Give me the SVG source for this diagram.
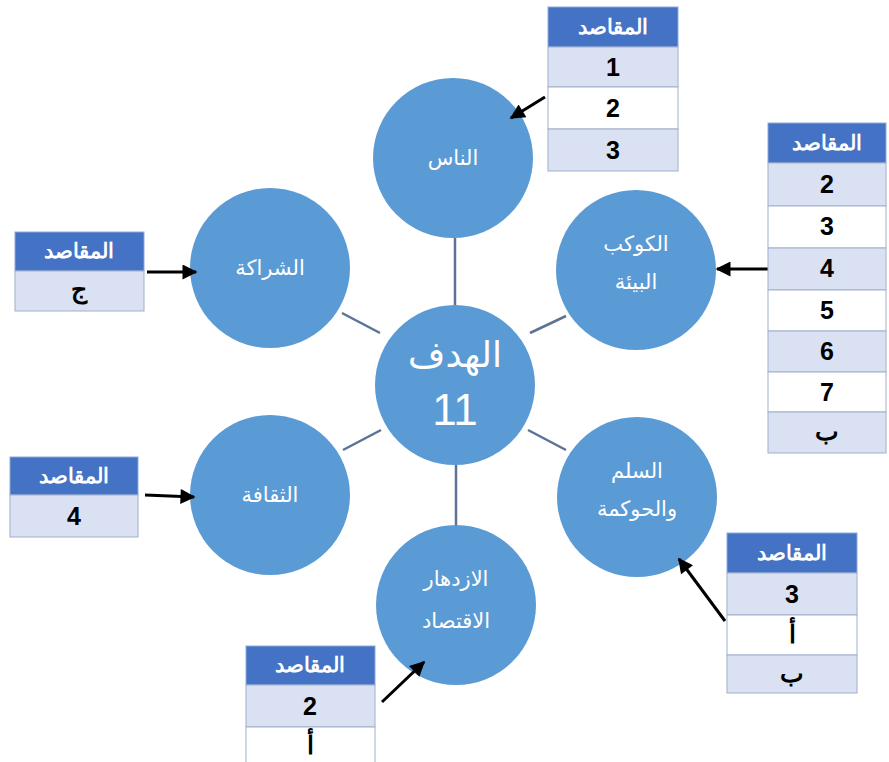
<svg xmlns="http://www.w3.org/2000/svg" width="889" height="762" viewBox="0 0 889 762">
  <defs>
    <marker id="head" viewBox="0 0 10 10" refX="9" refY="5" markerWidth="6" markerHeight="5" orient="auto" markerUnits="strokeWidth">
      <path d="M0,0 L10,5 L0,10 z" fill="#000"/>
    </marker>
    <style>
      .node { fill: #5b9bd5; }
      .ntext { fill: #ffffff; font-family: "Noto Sans", "DejaVu Sans", sans-serif; font-size: 21px; text-anchor: middle; }
      .big { font-size: 36px; }
      .num { font-family: "Liberation Sans", sans-serif; font-size: 44px; }
      .link { stroke: #5a7396; stroke-width: 2.5; fill: none; }
      .arrow { stroke: #000; stroke-width: 3; fill: none; marker-end: url(#head); }
      .hdr { fill: #4472c4; stroke: #8ea9db; stroke-width: 1; }
      .rowA { fill: #d9e1f2; stroke: #9fb0cc; stroke-width: 1; }
      .rowB { fill: #ffffff; stroke: #9fb0cc; stroke-width: 1; }
      .htext { fill: #ffffff; font-family: "Liberation Sans", "Noto Sans", sans-serif; font-weight: bold; font-size: 21px; text-anchor: middle; }
      .ctext { fill: #000000; font-family: "Liberation Sans", "Noto Sans", sans-serif; font-weight: bold; font-size: 25px; text-anchor: middle; }
    </style>
  </defs>
  <rect width="889" height="762" fill="#ffffff"/>

  <!-- spokes from the centre circle -->
  <g id="connectors">
    <line class="link" x1="455" y1="238" x2="455" y2="305"/>
    <line class="link" x1="342" y1="313" x2="380" y2="333"/>
    <line class="link" x1="530" y1="333" x2="566" y2="316"/>
    <line class="link" x1="343" y1="450" x2="381" y2="430"/>
    <line class="link" x1="528" y1="430" x2="566" y2="450"/>
    <line class="link" x1="456" y1="465" x2="456" y2="526"/>
  </g>

  <!-- circles -->
  <g id="center">
    <circle class="node" cx="455" cy="385" r="80"/>
    <text class="ntext big" x="455" y="367">الهدف</text>
    <text class="ntext num" x="455" y="425">11</text>
  </g>
  <g id="people">
    <circle class="node" cx="453" cy="158" r="80"/>
    <text class="ntext" x="453" y="165">الناس</text>
  </g>
  <g id="partnership">
    <circle class="node" cx="270" cy="268" r="80"/>
    <text class="ntext" x="270" y="275">الشراكة</text>
  </g>
  <g id="planet">
    <circle class="node" cx="636" cy="270" r="80"/>
    <text class="ntext" x="636" y="251">الكوكب</text>
    <text class="ntext" x="636" y="289">البيئة</text>
  </g>
  <g id="culture">
    <circle class="node" cx="270" cy="495" r="80"/>
    <text class="ntext" x="270" y="502">الثقافة</text>
  </g>
  <g id="peace">
    <circle class="node" cx="637" cy="497" r="80"/>
    <text class="ntext" x="637" y="478">السلم</text>
    <text class="ntext" x="637" y="516">والحوكمة</text>
  </g>
  <g id="prosperity">
    <circle class="node" cx="456" cy="605" r="80"/>
    <text class="ntext" x="456" y="586">الازدهار</text>
    <text class="ntext" x="456" y="628">الاقتصاد</text>
  </g>

  <!-- arrows from the tables to the circles -->
  <g id="arrows">
    <line class="arrow" x1="545" y1="97" x2="511" y2="118"/>
    <line class="arrow" x1="774" y1="269" x2="717" y2="269"/>
    <line class="arrow" x1="147" y1="272" x2="196" y2="272"/>
    <line class="arrow" x1="145" y1="495" x2="194" y2="497"/>
    <line class="arrow" x1="725" y1="621" x2="679" y2="559"/>
    <line class="arrow" x1="382" y1="702" x2="424" y2="662"/>
  </g>

  <!-- tables -->
  <g id="table-people">
    <rect class="hdr" x="548" y="7" width="130" height="40"/>
    <text class="htext" x="613" y="34">المقاصد</text>
    <rect class="rowA" x="548" y="47" width="130" height="40"/>
    <text class="ctext" x="613" y="76">1</text>
    <rect class="rowB" x="548" y="87" width="130" height="42"/>
    <text class="ctext" x="613" y="117">2</text>
    <rect class="rowA" x="548" y="129" width="130" height="42"/>
    <text class="ctext" x="613" y="159">3</text>
  </g>
  <g id="table-planet">
    <rect class="hdr" x="768" y="123" width="118" height="40"/>
    <text class="htext" x="827" y="150">المقاصد</text>
    <rect class="rowA" x="768" y="163" width="118" height="43"/>
    <text class="ctext" x="827" y="193">2</text>
    <rect class="rowB" x="768" y="206" width="118" height="42"/>
    <text class="ctext" x="827" y="235">3</text>
    <rect class="rowA" x="768" y="248" width="118" height="42"/>
    <text class="ctext" x="827" y="277">4</text>
    <rect class="rowB" x="768" y="290" width="118" height="41"/>
    <text class="ctext" x="827" y="319">5</text>
    <rect class="rowA" x="768" y="331" width="118" height="41"/>
    <text class="ctext" x="827" y="360">6</text>
    <rect class="rowB" x="768" y="372" width="118" height="40"/>
    <text class="ctext" x="827" y="401">7</text>
    <rect class="rowA" x="768" y="412" width="118" height="41"/>
    <text class="ctext" x="827" y="440">ب</text>
  </g>
  <g id="table-partnership">
    <rect class="hdr" x="15" y="232" width="129" height="39"/>
    <text class="htext" x="79" y="258">المقاصد</text>
    <rect class="rowA" x="15" y="271" width="129" height="40"/>
    <text class="ctext" x="79" y="298">ج</text>
  </g>
  <g id="table-culture">
    <rect class="hdr" x="10" y="457" width="128" height="38"/>
    <text class="htext" x="74" y="483">المقاصد</text>
    <rect class="rowA" x="10" y="495" width="128" height="42"/>
    <text class="ctext" x="74" y="525">4</text>
  </g>
  <g id="table-peace">
    <rect class="hdr" x="727" y="533" width="130" height="40"/>
    <text class="htext" x="792" y="560">المقاصد</text>
    <rect class="rowA" x="727" y="573" width="130" height="42"/>
    <text class="ctext" x="792" y="603">3</text>
    <rect class="rowB" x="727" y="615" width="130" height="40"/>
    <text class="ctext" x="792" y="643">أ</text>
    <rect class="rowA" x="727" y="655" width="130" height="38"/>
    <text class="ctext" x="792" y="682">ب</text>
  </g>
  <g id="table-prosperity">
    <rect class="hdr" x="246" y="646" width="129" height="39"/>
    <text class="htext" x="310" y="672">المقاصد</text>
    <rect class="rowA" x="246" y="685" width="129" height="42"/>
    <text class="ctext" x="310" y="715">2</text>
    <rect class="rowB" x="246" y="727" width="129" height="40"/>
    <text class="ctext" x="310" y="754">أ</text>
  </g>
</svg>
